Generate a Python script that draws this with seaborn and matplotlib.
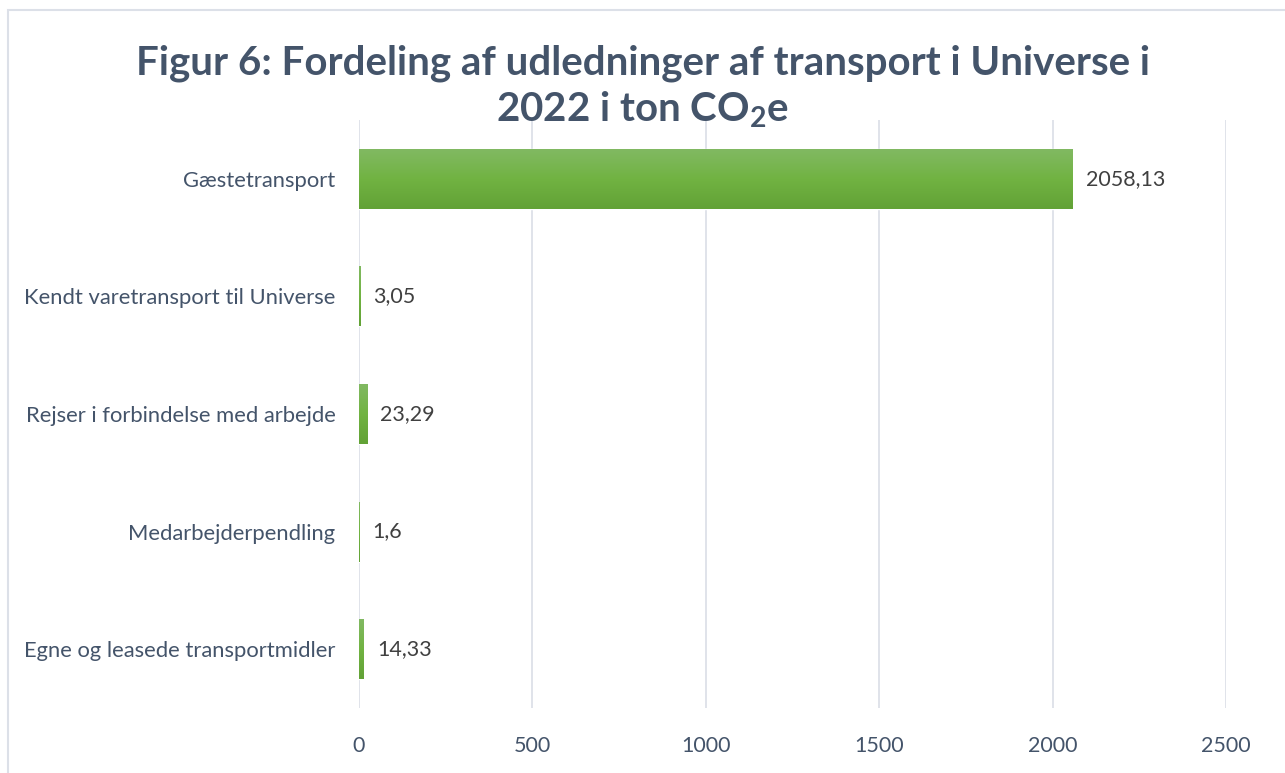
import numpy as np
import pandas as pd
import seaborn as sns
import matplotlib.pyplot as plt
from matplotlib.patches import Rectangle
from matplotlib.colors import LinearSegmentedColormap

categories = ['Gæstetransport', 'Kendt varetransport til Universe',
              'Rejser i forbindelse med arbejde', 'Medarbejderpendling',
              'Egne og leasede transportmidler']
values = [2058.13, 3.05, 23.29, 1.6, 14.33]
value_labels = ['2058,13', '3,05', '23,29', '1,6', '14,33']
x_ticks = [0, 500, 1000, 1500, 2000, 2500]

sns.set_theme(style='white')
plt.rcParams['font.family'] = ['Lato', 'DejaVu Sans']
plt.rcParams['mathtext.fontset'] = 'custom'
plt.rcParams['mathtext.rm'] = 'Lato:bold'

text_col = '#44546A'
grid_col = '#DDE1E8'

df = pd.DataFrame({'category': categories, 'value': values})

fig = plt.figure(figsize=(12.85, 7.73), dpi=100)
ax = fig.add_axes([0.2794, 0.0841, 0.6747, 0.7607])

sns.barplot(ax=ax, data=df, y='category', x='value', orient='h',
            color='#6DAE43', width=0.51, saturation=1)

# gradient fill on bars
grad = LinearSegmentedColormap.from_list('g', ['#62A236', '#71B342', '#81B962'])
for p in ax.patches:
    x0, y0 = p.get_x(), p.get_y()
    w, h = p.get_width(), p.get_height()
    im = ax.imshow(np.linspace(0, 1, 64).reshape(-1, 1), cmap=grad, aspect='auto',
                   extent=[x0, x0 + w, y0 + h, y0], origin='lower', zorder=2)
    im.set_clip_path(p)

ax.set_xlim(0, 2500)
ax.set_ylim(4.5, -0.5)
ax.set_xticks(x_ticks)
ax.set_xticklabels([str(t) for t in x_ticks])
ax.grid(axis='x', color=grid_col, linewidth=1.3)
ax.set_axisbelow(True)
for s in ax.spines.values():
    s.set_visible(False)
ax.set_xlabel('')
ax.set_ylabel('')
ax.tick_params(axis='x', length=0, pad=20, labelsize=15.5, labelcolor=text_col)
ax.tick_params(axis='y', length=0, pad=17, labelsize=15.8, labelcolor=text_col)

for i, (v, lab) in enumerate(zip(values, value_labels)):
    ax.text(v + 38, i, lab, va='center', ha='left', fontsize=15.5, color='#404040')

fig.text(0.5, 0.887, 'Figur 6: Fordeling af udledninger af transport i Universe i\n'
         r'2022 i ton CO$_{2}$e', ha='center', va='center', fontsize=29,
         fontweight='bold', color=text_col, linespacing=1.24)

fig.add_artist(Rectangle((8 / 1285, -0.1), 1.2, 1.1 - 10.5 / 773,
                         transform=fig.transFigure, fill=False,
                         edgecolor='#DCE0E8', linewidth=1.5))

fig.savefig('out.png', dpi=100)
